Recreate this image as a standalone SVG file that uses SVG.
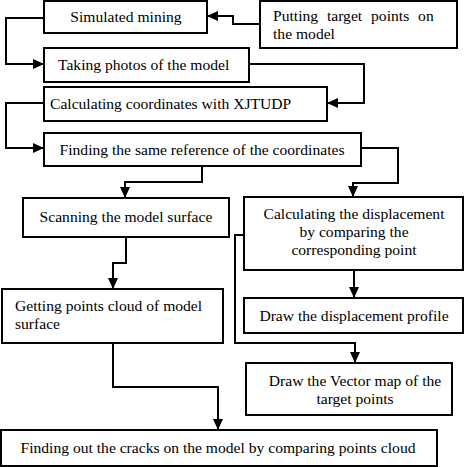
<svg xmlns="http://www.w3.org/2000/svg" width="464" height="467" viewBox="0 0 464 467">
<defs>
<marker id="ah" markerUnits="userSpaceOnUse" markerWidth="12" markerHeight="10" refX="11" refY="5" orient="auto">
<path d="M0,0 L11,5 L0,10 Z" fill="#000"/>
</marker>
<style>
.box{fill:#fff;stroke:#000;stroke-width:2}
.t{font-family:"Liberation Serif","Times New Roman",serif;font-size:15.6px;fill:#000}
.c{text-anchor:middle}
.ln{fill:none;stroke:#000;stroke-width:2;marker-end:url(#ah)}
</style>
</defs>
<rect width="464" height="467" fill="#fff"/>
<g id="n1"><rect class="box" x="44" y="1" width="163" height="32"/><text class="t c" x="126" y="22">Simulated mining</text></g>
<g id="n2"><rect class="box" x="260" y="1" width="197" height="47"/><text class="t" x="273" y="21" word-spacing="5">Putting target points on</text><text class="t" x="273" y="39">the model</text></g>
<g id="n3"><rect class="box" x="44" y="48" width="205" height="34"/><text class="t" x="58" y="70">Taking photos of the model</text></g>
<g id="n4"><rect class="box" x="44" y="87" width="283" height="34"/><text class="t" x="50" y="109">Calculating coordinates with XJTUDP</text></g>
<g id="n5"><rect class="box" x="44" y="133" width="317" height="33"/><text class="t c" x="202" y="155">Finding the same reference of the coordinates</text></g>
<g id="n6"><rect class="box" x="23" y="198" width="206" height="39"/><text class="t c" x="126" y="222">Scanning the model surface</text></g>
<g id="n7"><rect class="box" x="244" y="197" width="219" height="73"/><text class="t c" x="354" y="219">Calculating the displacement</text><text class="t c" x="354" y="237">by comparing the</text><text class="t c" x="354" y="255">corresponding point</text></g>
<g id="n8"><rect class="box" x="2" y="289" width="221" height="54"/><text class="t" x="15" y="311">Getting points cloud of model</text><text class="t" x="15" y="329">surface</text></g>
<g id="n9"><rect class="box" x="244" y="298" width="219" height="35"/><text class="t c" x="354" y="321">Draw the displacement profile</text></g>
<g id="n10"><rect class="box" x="246" y="363" width="206" height="52"/><text class="t c" x="355" y="386">Draw the Vector map of the</text><text class="t c" x="355" y="404">target points</text></g>
<g id="n11"><rect class="box" x="1" y="430" width="436" height="36"/><text class="t c" x="218" y="453">Finding out the cracks on the model by comparing points cloud</text></g>
<g id="connectors">
<path class="ln" d="M260,24 H233 V16 H207"/>
<path class="ln" d="M44,18 H6 V64 H44"/>
<path class="ln" d="M249,64 H364 V103 H327"/>
<path class="ln" d="M44,103 H6 V148 H44"/>
<path class="ln" d="M202,166 V182 H125 V198"/>
<path class="ln" d="M361,148 H398 V183 H353 V197"/>
<path class="ln" d="M126,237 V263 H113 V289"/>
<path class="ln" d="M354,270 V298"/>
<path class="ln" d="M244,235 H235 V343 H355 V363"/>
<path class="ln" d="M113,343 V387 H218 V430"/>
</g>
</svg>
